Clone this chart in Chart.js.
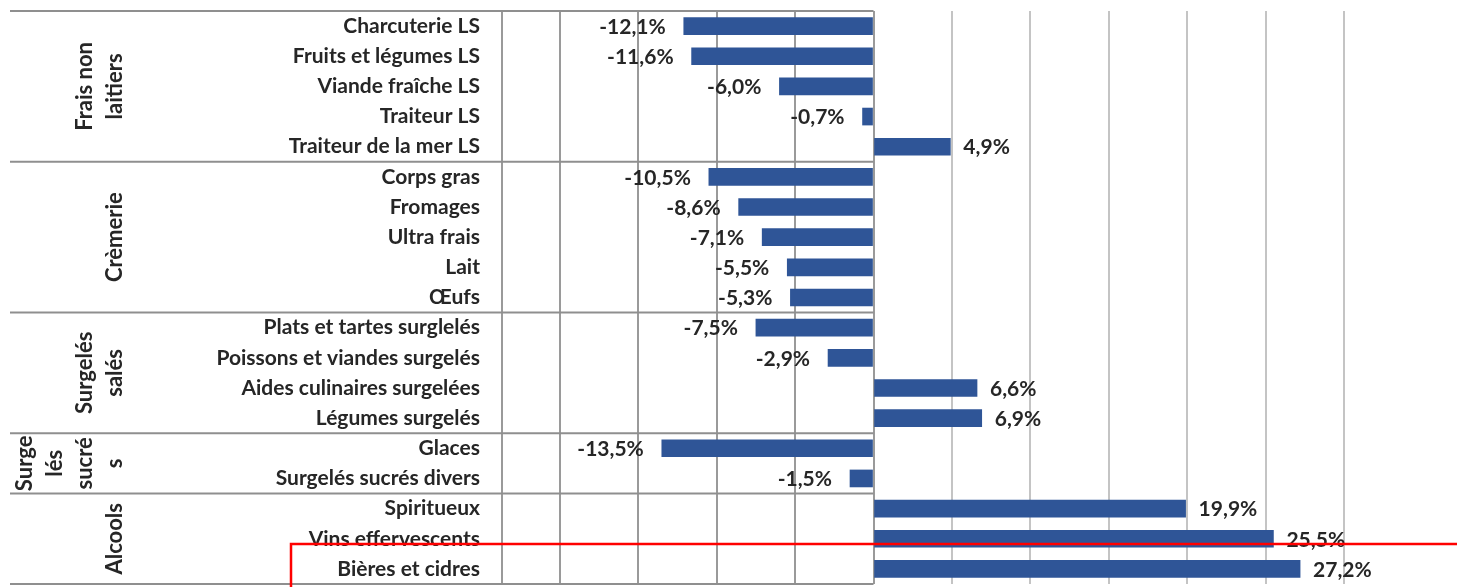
<!DOCTYPE html>
<html>
<head>
<meta charset="utf-8">
<script src="https://cdn.jsdelivr.net/npm/chart.js@4/dist/chart.umd.min.js"></script>
<style>
  html, body { margin: 0; padding: 0; background: #ffffff; overflow: hidden; }
  #wrap { width: 1457px; height: 587px; position: relative; }
</style>
</head>
<body>
<div id="wrap"><canvas id="chart"></canvas></div>
<script>
const categories = [
  "Charcuterie LS", "Fruits et légumes LS", "Viande fraîche LS", "Traiteur LS", "Traiteur de la mer LS",
  "Corps gras", "Fromages", "Ultra frais", "Lait", "Œufs",
  "Plats et tartes surglelés", "Poissons et viandes surgelés", "Aides culinaires surgelées", "Légumes surgelés",
  "Glaces", "Surgelés sucrés divers",
  "Spiritueux", "Vins effervescents", "Bières et cidres",
];
const values = [
  -12.1, -11.6, -6.0, -0.7, 4.9,
  -10.5, -8.6, -7.1, -5.5, -5.3,
  -7.5, -2.9, 6.6, 6.9,
  -13.5, -1.5,
  19.9, 25.5, 27.2,
];
const groupNames = ["Frais non laitiers", "Crèmerie", "Surgelés salés", "Surgelés sucrés", "Alcools"];
const groupSizes = [5, 5, 4, 2, 3];
// how the narrow group column wraps each name
const groupLines = [
  ["Frais non", "laitiers"],
  ["Crèmerie"],
  ["Surgelés", "salés"],
  ["Surge", "lés", "sucré", "s"],
  ["Alcools"],
];
const xTicks = [-20, -15, -10, -5, 0, 5, 10, 15, 20, 25, 30];
const xMin = -23.69;
const xMax = 30;

const labelFont = "Lato, 'Open Sans', sans-serif";
const textColor = "#262626";
const sepColor = "#8f8f8f";

const fmt = (v) => v.toFixed(1).replace(".", ",") + "%";

const groupPlugin = {
  id: "groups",
  afterDraw(chart) {
    const { ctx, chartArea } = chart;
    const y = chart.scales.y;
    const x = chart.scales.x;
    const zero = x.getPixelForValue(0);
    const half = (y.getPixelForValue(1) - y.getPixelForValue(0)) / 2;
    ctx.save();
    ctx.strokeStyle = sepColor;
    ctx.lineWidth = 2;
    // separators between groups
    let start = 0;
    const edges = [chartArea.top];
    groupSizes.forEach((n) => {
      start += n;
      edges.push(y.getPixelForValue(start - 1) + half);
    });
    edges.forEach((py) => {
      ctx.beginPath();
      ctx.moveTo(10, py);
      ctx.lineTo(zero, py);
      ctx.stroke();
    });
    // rotated group names
    ctx.fillStyle = textColor;
    ctx.font = "bold 22px " + labelFont;
    ctx.textAlign = "center";
    ctx.textBaseline = "middle";
    groupLines.forEach((lines, g) => {
      const cy = (edges[g] + edges[g + 1]) / 2;
      lines.forEach((line, i) => {
        const lx = 115 - (lines.length - 1 - i) * 30;
        ctx.save();
        ctx.translate(lx, cy);
        ctx.rotate(-Math.PI / 2);
        ctx.fillText(line, 0, 0);
        ctx.restore();
      });
    });
    // value labels
    const meta = chart.getDatasetMeta(0);
    ctx.font = "bold 21px " + labelFont;
    meta.data.forEach((bar, i) => {
      const v = values[i];
      if (v < 0) {
        ctx.textAlign = "right";
        ctx.fillText(fmt(v), bar.x - 18, bar.y + 1);
      } else {
        ctx.textAlign = "left";
        ctx.fillText(fmt(v), bar.x + 13, bar.y + 1);
      }
    });
    // red highlight frame
    const redY = y.getPixelForValue(17.17);
    ctx.strokeStyle = "#ff0000";
    ctx.lineWidth = 2.5;
    ctx.beginPath();
    ctx.moveTo(chart.width, redY);
    ctx.lineTo(291, redY);
    ctx.lineTo(291, chart.height);
    ctx.stroke();
    ctx.restore();
  },
};

new Chart(document.getElementById("chart"), {
  type: "bar",
  data: {
    labels: categories,
    datasets: [
      {
        data: values,
        backgroundColor: "#2f5597",
        borderWidth: 0,
        barThickness: 17,
      },
    ],
  },
  options: {
    indexAxis: "y",
    responsive: true,
    maintainAspectRatio: false,
    animation: false,
    layout: {
      padding: { left: 0, right: 113, top: 11, bottom: 3 },
    },
    scales: {
      x: {
        min: xMin,
        max: xMax,
        afterBuildTicks(scale) {
          scale.ticks = [xMin, ...xTicks].map((v) => ({ value: v }));
        },
        afterFit(scale) {
          scale.height = 0;
        },
        ticks: { display: false },
        grid: {
          drawTicks: false,
          lineWidth: 2,
          color: (c) => (c.tick && c.tick.value <= 0 ? "#9a9a9a" : "#c4c4c4"),
        },
        border: { display: false },
      },
      y: {
        afterFit(scale) {
          scale.width = 502;
          scale.paddingTop = 0;
          scale.paddingBottom = 0;
        },
        grid: { display: false, drawTicks: false },
        border: { display: false },
        ticks: {
          color: textColor,
          padding: 22,
          autoSkip: false,
          font: { family: labelFont, size: 21, weight: "bold" },
        },
      },
    },
    plugins: {
      legend: { display: false },
      tooltip: { enabled: false },
    },
  },
  plugins: [groupPlugin],
});
</script>
</body>
</html>
